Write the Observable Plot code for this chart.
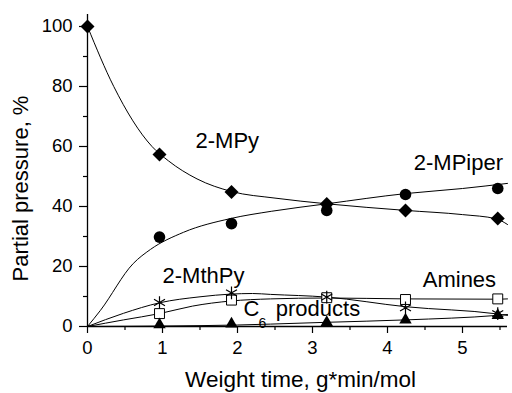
<!DOCTYPE html>
<html><head><meta charset="utf-8">
<script src="https://cdn.jsdelivr.net/npm/d3@7"></script>
<script src="https://cdn.jsdelivr.net/npm/@observablehq/plot@0.6"></script>
<style>body{margin:0;background:#fff;} svg{display:block;}</style>
</head><body><div id="chart"></div>
<script>
// measured data points
const mpyX = [0, 0.96, 1.92, 3.19, 4.24, 5.47];
const mpyY = [100, 57.3, 44.8, 40.8, 38.7, 36.0];
const ptsX = [0.96, 1.92, 3.19, 4.24, 5.47];
const mpiperY = [29.8, 34.3, 38.7, 44.0, 46.0];
const mthpyY = [8.0, 11.2, 9.8, 6.2, 4.3];
const aminesY = [4.3, 8.8, 9.6, 9.0, 9.2];
const c6Y = [0.6, 0.9, 1.4, 2.2, 3.7];

// fitted curves
const fitMpyX = [0, 0.35, 0.86, 1.08, 1.46, 1.92, 2.5, 3.19, 4.24, 5.0, 5.45, 5.6];
const fitMpyY = [100, 80, 60, 55.2, 49.2, 45.0, 42.8, 40.9, 38.7, 37.3, 35.9, 34.0];
const fitMpiperX = [0, 0.17, 0.61, 0.84, 1.28, 1.91, 2.45, 3.19, 4.24, 5.0, 5.6];
const fitMpiperY = [0, 5.3, 21, 25.7, 31.4, 36.0, 38.4, 40.9, 44.3, 46.0, 47.7];
const fitMthpyX = [0, 0.48, 0.96, 1.5, 1.91, 2.2, 2.44, 3.19, 4.24, 5.46, 5.6];
const fitMthpyY = [0, 4.4, 7.9, 9.9, 10.8, 11.0, 10.7, 9.8, 6.6, 4.2, 3.7];
const fitAminesX = [0, 0.48, 0.96, 1.4, 1.91, 2.44, 3.19, 4.24, 5.46, 5.6];
const fitAminesY = [0, 2.2, 4.3, 6.8, 8.5, 9.2, 9.5, 9.2, 9.1, 9.2];
const fitC6X = [0, 1, 2, 2.44, 3.19, 4.24, 5.46, 5.6];
const fitC6Y = [0, 0.15, 0.5, 0.8, 1.4, 2.2, 3.7, 4.0];

// ticks
const xTicks = [0, 1, 2, 3, 4, 5];
const xMinor = [0.5, 1.5, 2.5, 3.5, 4.5, 5.5];
const yTicks = [0, 20, 40, 60, 80, 100];
const yMinor = [10, 30, 50, 70, 90];

// annotations
const labelText = ["2-MPy", "2-MPiper", "2-MthPy", "Amines", "C", "products"];
const labelX = [1.44, 4.35, 1.0, 4.47, 2.08, 2.51];
const labelY = [62, 54.5, 16.8, 15.5, 5.7, 5.7];
const subText = ["6"];
const subX = [2.28];
const subY = [1.0];

const xTitle = "Weight time, g*min/mol";
const yTitle = "Partial pressure, %";

const zip = (xs, ys) => xs.map((x, i) => ({x, y: ys[i]}));
const font = "'Liberation Sans', Arial, sans-serif";

const chart = Plot.plot({
  width: 512, height: 393,
  marginLeft: 87, marginRight: 5, marginTop: 14, marginBottom: 67,
  style: {fontFamily: font, fontSize: "18.5px", background: "white", color: "black", overflow: "visible"},
  x: {domain: [0, 5.6], label: null},
  y: {domain: [0, 104], label: null},
  marks: [
    Plot.axisX(xTicks, {tickSize: 7, tickPadding: 7, fontSize: 18.5, label: null, strokeWidth: 1.2}),
    Plot.axisX(xMinor, {tickSize: 4, tickFormat: () => "", label: null, strokeWidth: 1.2}),
    Plot.axisY(yTicks, {tickSize: 8, tickPadding: 7, fontSize: 18.5, label: null, strokeWidth: 1.2}),
    Plot.axisY(yMinor, {tickSize: 4, tickFormat: () => "", label: null, strokeWidth: 1.2}),
    Plot.ruleY([0], {x1: 0, x2: 5.6, stroke: "black", strokeWidth: 1.3}),
    Plot.ruleX([0], {y1: 0, y2: 104, stroke: "black", strokeWidth: 1.3}),
    Plot.line(zip(fitMpyX, fitMpyY), {x: "x", y: "y", curve: "monotone-x", stroke: "black", strokeWidth: 1}),
    Plot.line(zip(fitMpiperX, fitMpiperY), {x: "x", y: "y", curve: "monotone-x", stroke: "black", strokeWidth: 1}),
    Plot.line(zip(fitMthpyX, fitMthpyY), {x: "x", y: "y", curve: "monotone-x", stroke: "black", strokeWidth: 1}),
    Plot.line(zip(fitAminesX, fitAminesY), {x: "x", y: "y", curve: "monotone-x", stroke: "black", strokeWidth: 1}),
    Plot.line(zip(fitC6X, fitC6Y), {x: "x", y: "y", curve: "monotone-x", stroke: "black", strokeWidth: 1}),
    Plot.dot(zip(mpyX, mpyY), {x: "x", y: "y", symbol: "diamond2", r: 6.3, fill: "black", stroke: "none"}),
    Plot.dot(zip(ptsX, mpiperY), {x: "x", y: "y", symbol: "circle", r: 5.8, fill: "black", stroke: "none"}),
    Plot.dot(zip(ptsX, aminesY), {x: "x", y: "y", symbol: "square", r: 5.6, fill: "white", stroke: "black", strokeWidth: 1}),
    Plot.dot(zip(ptsX, mthpyY), {x: "x", y: "y", symbol: "asterisk", r: 6, fill: "none", stroke: "black", strokeWidth: 1.2}),
    Plot.dot(zip(ptsX, c6Y), {x: "x", y: "y", symbol: "triangle", r: 4.6, fill: "black", stroke: "none"}),
    Plot.text(labelText.map((t, i) => ({t, x: labelX[i], y: labelY[i]})), {x: "x", y: "y", text: "t", textAnchor: "start", lineAnchor: "middle", fontSize: 22, fill: "black"}),
    Plot.text(subText.map((t, i) => ({t, x: subX[i], y: subY[i]})), {x: "x", y: "y", text: "t", textAnchor: "start", lineAnchor: "middle", fontSize: 14, fill: "black"}),
    Plot.text([xTitle], {frameAnchor: "bottom", dy: 53, dx: 3, fontSize: 22.5, fill: "black", lineAnchor: "middle"}),
    Plot.text([yTitle], {frameAnchor: "left", dx: -67, dy: 18, rotate: -90, textAnchor: "middle", fontSize: 22, fill: "black", lineAnchor: "middle"})
  ]
});
document.getElementById("chart").appendChild(chart);
</script>
</body></html>
